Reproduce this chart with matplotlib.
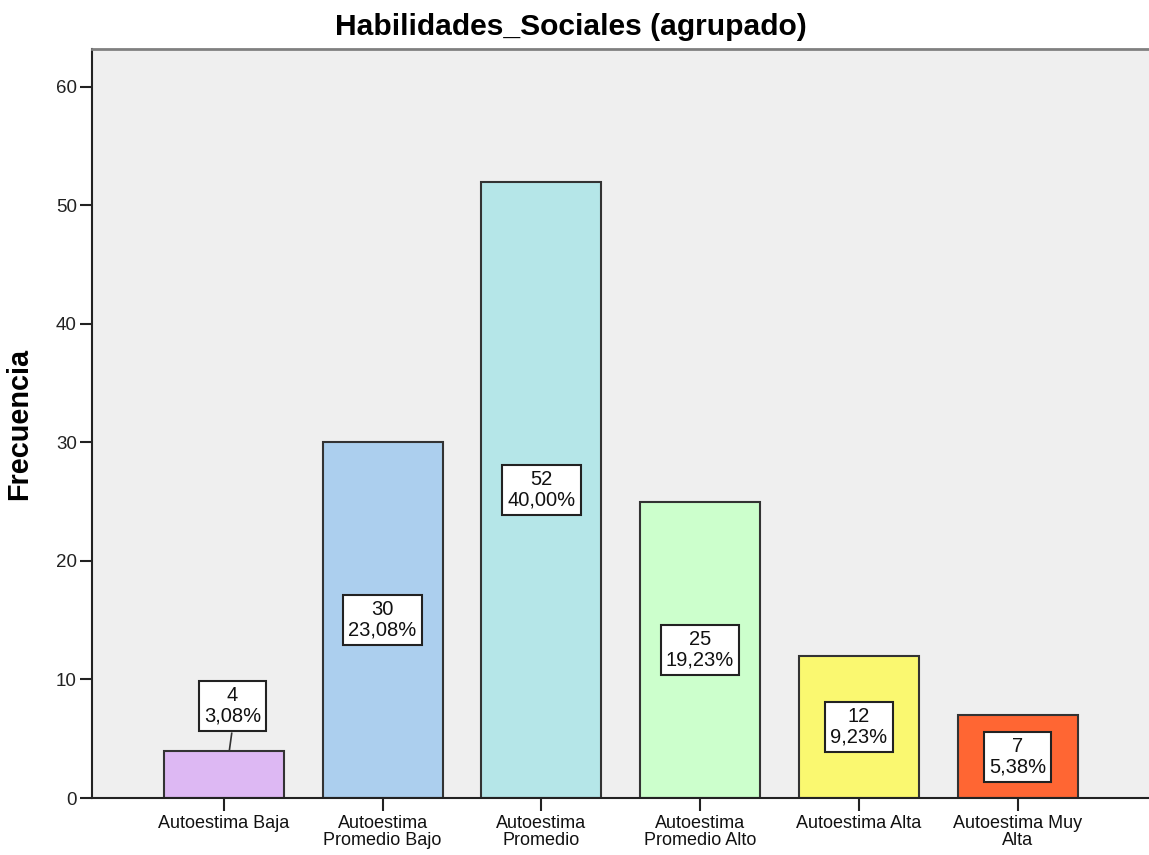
import matplotlib
matplotlib.use("Agg")
import matplotlib.pyplot as plt

categories = ["Autoestima Baja", "Autoestima\nPromedio Bajo", "Autoestima\nPromedio",
              "Autoestima\nPromedio Alto", "Autoestima Alta", "Autoestima Muy\nAlta"]
counts = [4, 30, 52, 25, 12, 7]
percents = ["3,08%", "23,08%", "40,00%", "19,23%", "9,23%", "5,38%"]
colors = ["#DDB8F3", "#ACCFEE", "#B5E6E8", "#CCFFCC", "#FAF870", "#FF6633"]
title = "Habilidades_Sociales (agrupado)"
ylabel = "Frecuencia"
yticks = [0, 10, 20, 30, 40, 50, 60]

plt.rcParams['font.family'] = ['Liberation Sans', 'DejaVu Sans']

W, H = 1149, 855
fig = plt.figure(figsize=(W / 100, H / 100), dpi=100)
ax = fig.add_axes([92 / W, (H - 798) / H, (W - 92) / W + 0.01, (798 - 49) / H])
ax.set_facecolor("#EFEFEF")

x = list(range(len(categories)))
ax.bar(x, counts, width=0.756, color=colors, edgecolor="#333333", linewidth=1.5, zorder=2)

ax.set_xlim(-0.83, 5.83 + 0.07)
ax.set_ylim(0, 63.2)

for i, (c, p) in enumerate(zip(counts, percents)):
    if c < 6:
        ty = 7.76
        tx = i + 0.055
        ax.plot([i + 0.035, i + 0.05], [c, ty - 2.3], color="#333333", lw=1.2, zorder=3)
    else:
        ty = c / 2
        tx = i
    ax.text(tx, ty, f"{c}\n{p}", ha="center", va="center", fontsize=14.5,
            linespacing=1.1, zorder=4, color="#111111",
            bbox=dict(boxstyle="square,pad=0.26", fc="white", ec="#222222", lw=1.5))

ax.set_xticks(x)
ax.set_xticklabels(categories, fontsize=13, linespacing=1.0, color="#111111")
ax.set_yticks(yticks)
ax.set_yticklabels([str(v) for v in yticks], fontsize=13.5, color="#222222")
ax.tick_params(axis="x", direction="out", length=9, width=1.5, color="#222222", pad=3)
ax.tick_params(axis="y", direction="out", length=9, width=1.5, color="#222222", pad=2)

ax.spines["left"].set_color("#222222")
ax.spines["left"].set_linewidth(1.5)
ax.spines["bottom"].set_color("#222222")
ax.spines["bottom"].set_linewidth(1.5)
ax.spines["top"].set_color("#808080")
ax.spines["top"].set_linewidth(2)
ax.spines["right"].set_visible(False)

ax.set_ylabel(ylabel, fontsize=20.8, fontweight="bold", labelpad=16)
fig.text(571 / W, 1 - 27 / H, title, ha="center", va="center", fontsize=21.6, fontweight="bold")

fig.savefig("out.png", dpi=100)
